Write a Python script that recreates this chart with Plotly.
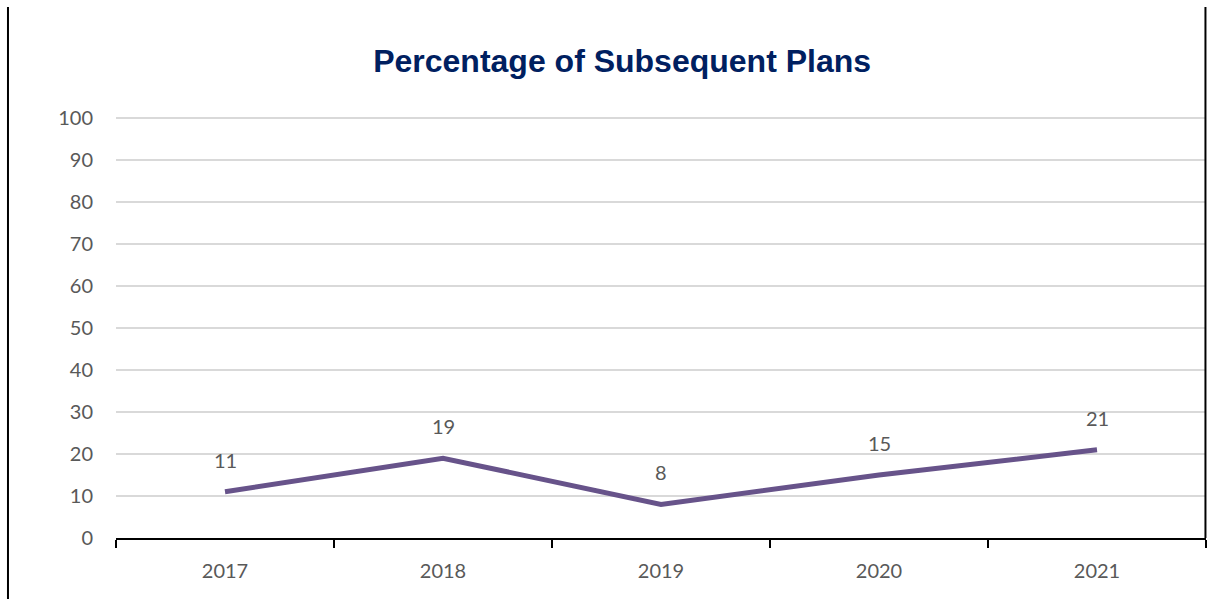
import plotly.graph_objects as go

# Share of subsequent plans by year (%)
years = ["2017", "2018", "2019", "2020", "2021"]
percent = [11, 19, 8, 15, 21]
y_ticks = [0, 10, 20, 30, 40, 50, 60, 70, 80, 90, 100]

LINE_COLOR = "#67538a"
TEXT_GRAY = "#595959"
TITLE_NAVY = "#002060"
LABEL_FONT = "Lato, Open Sans, sans-serif"

fig = go.Figure()
fig.add_trace(
    go.Scatter(
        x=years,
        y=percent,
        mode="lines",
        line=dict(color=LINE_COLOR, width=5),
        hoverinfo="x+y",
        showlegend=False,
        cliponaxis=False,
    )
)

# Value labels above each point (x given as category index)
for i, v in enumerate(percent):
    fig.add_annotation(
        x=i, y=v, xref="x", yref="y", text=str(v), showarrow=False, yshift=32,
        font=dict(family=LABEL_FONT, size=20, color=TEXT_GRAY),
    )

# Chart frame: left edge full height, right edge down to the axis
fig.add_shape(type="line", xref="paper", yref="paper",
              x0=-0.0991, x1=-0.0991, y0=1.258, y1=-0.16,
              line=dict(color="black", width=2))
fig.add_shape(type="line", xref="paper", yref="paper",
              x0=0.9995, x1=0.9995, y0=1.258, y1=0,
              line=dict(color="black", width=2))

fig.update_layout(
    width=1208,
    height=599,
    margin=dict(l=116, r=2, t=116, b=61),
    paper_bgcolor="white",
    plot_bgcolor="white",
    title=dict(
        text="<b>Percentage of Subsequent Plans</b>",
        x=0.515, xanchor="center", y=0.898, yanchor="middle",
        font=dict(family="Liberation Sans, Arial, sans-serif", size=32, color=TITLE_NAVY),
    ),
    xaxis=dict(
        type="category",
        range=[-0.5, 4.5],
        showline=True, linecolor="black", linewidth=2,
        ticks="outside", tickson="boundaries", ticklen=8, tickwidth=2, tickcolor="black",
        showgrid=False, zeroline=False,
        ticklabelstandoff=14,
        tickfont=dict(family=LABEL_FONT, size=20, color=TEXT_GRAY),
    ),
    yaxis=dict(
        range=[0, 100.5],
        tickvals=y_ticks,
        showgrid=True, gridcolor="#d9d9d9", gridwidth=2,
        showline=False, zeroline=False, ticks="",
        ticklabelstandoff=22,
        tickfont=dict(family=LABEL_FONT, size=20, color=TEXT_GRAY),
    ),
)

fig.write_html("out.html")
